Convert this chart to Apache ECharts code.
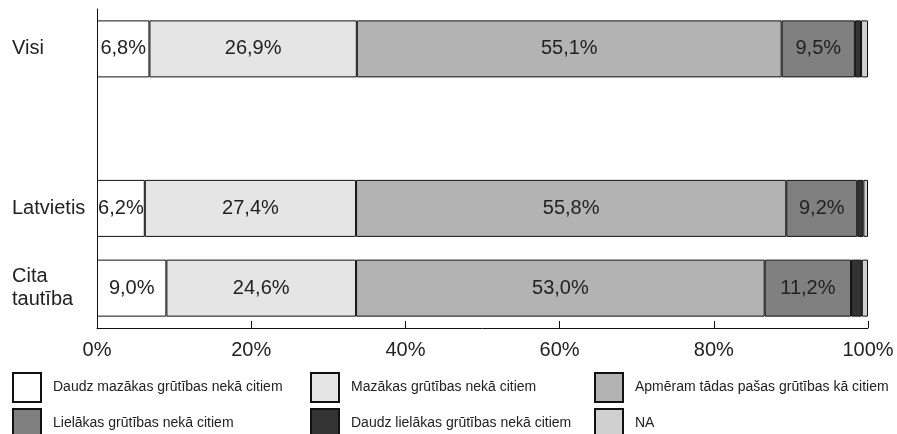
<!DOCTYPE html>
<html>
<head>
<meta charset="utf-8">
<script src="https://cdn.jsdelivr.net/npm/echarts@6/dist/echarts.min.js"></script>
<style>
  html, body { margin: 0; padding: 0; background: #fff; }
  #chart { width: 897px; height: 434px; }
</style>
</head>
<body>
<div id="chart"></div>
<script>
// kategorijas (tukšā vieta starp Visi un Latvietis)
const categories = ['Visi', '', 'Latvietis', 'Cita\ntautība']
const seriesNames = [
  'Daudz mazākas grūtības nekā citiem',
  'Mazākas grūtības nekā citiem',
  'Apmēram tādas pašas grūtības kā citiem',
  'Lielākas grūtības nekā citiem',
  'Daudz lielākas grūtības nekā citiem',
  'NA'
]
const daudzMazakas = [6.8, '-', 6.2, 9.0]
const mazakas = [26.9, '-', 27.4, 24.6]
const apmeram = [55.1, '-', 55.8, 53.0]
const lielakas = [9.5, '-', 9.2, 11.2]
const daudzLielakas = [0.8, '-', 0.8, 1.4]
const na = [0.9, '-', 0.6, 0.8]
const xTicks = [0, 20, 40, 60, 80, 100]

const colors = ['#ffffff', '#e5e5e5', '#b3b3b3', '#808080', '#333333', '#d0d0d0']
const values = [daudzMazakas, mazakas, apmeram, lielakas, daudzLielakas, na]
const fontFam = "'Liberation Sans', Arial, sans-serif"

let chart = echarts.init(document.getElementById('chart'))

let series = values.map((arr, i) => ({
  name: seriesNames[i],
  type: 'bar',
  stack: 'total',
  data: arr,
  barWidth: 57,
  itemStyle: {
    color: colors[i],
    borderColor: '#111',
    borderWidth: 1
  },
  label: {
    show: i < 4,
    position: 'inside',
    color: '#222',
    fontSize: 20,
    fontFamily: fontFam,
    formatter: p => p.value.toFixed(1).replace('.', ',') + '%'
  },
  emphasis: { disabled: true }
}))

// leģenda: trīs kolonnas pa divām rindām, katrs ieraksts atsevišķi
const legendLeft = [12, 310, 594]
const legendTop = [372, 408]
let legends = seriesNames.map((name, i) => ({
  left: legendLeft[i % 3],
  top: legendTop[Math.floor(i / 3)],
  itemWidth: 28,
  itemHeight: 29,
  icon: 'rect',
  selectedMode: false,
  padding: 0,
  data: [name],
  textStyle: {
    color: '#222',
    fontSize: 14,
    fontFamily: fontFam,
    padding: [0, 0, 0, 7]
  }
}))

chart.setOption({
  animation: false,
  textStyle: { fontFamily: fontFam },
  grid: { left: 97, right: 29, top: 9, bottom: 106 },
  legend: legends,
  xAxis: {
    type: 'value',
    min: xTicks[0],
    max: xTicks[xTicks.length - 1],
    interval: 20,
    splitLine: { show: false },
    axisLine: { show: true, lineStyle: { color: '#111', width: 1 } },
    axisTick: { show: true, inside: true, length: 7, lineStyle: { color: '#111' } },
    axisLabel: {
      color: '#222',
      fontSize: 20,
      margin: 12,
      formatter: '{value}%'
    }
  },
  yAxis: {
    type: 'category',
    inverse: true,
    data: categories,
    axisLine: { show: true, lineStyle: { color: '#111', width: 1 } },
    axisTick: { show: false },
    axisLabel: {
      color: '#222',
      fontSize: 20,
      lineHeight: 23,
      align: 'left',
      margin: 85
    }
  },
  series: series
})
</script>
</body>
</html>
